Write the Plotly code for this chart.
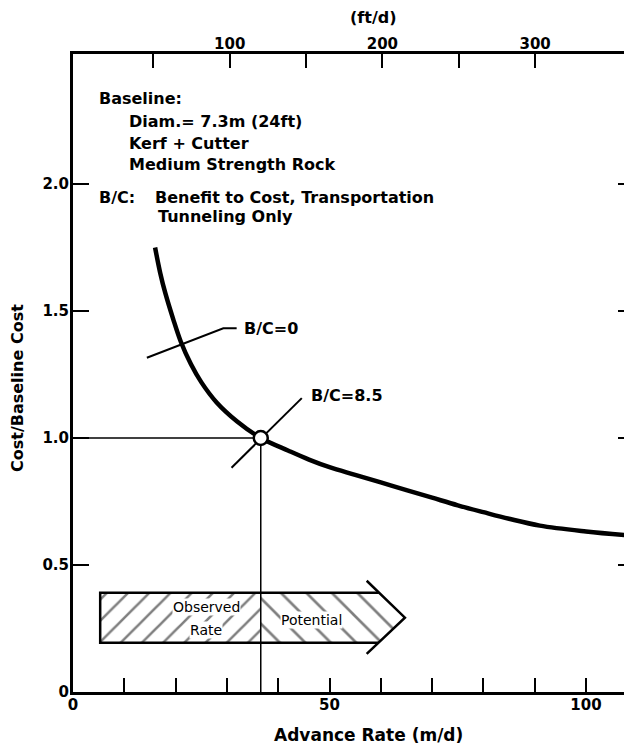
import plotly.graph_objects as go

# ---------------- data ----------------
advance_rate_m = [16.0, 17.0, 18.0, 19.5, 21.0, 23.0, 25.0, 28.0, 32.0, 36.6,
                  42.0, 46.0, 50.0, 55.0, 60.0, 65.0, 70.0, 75.0, 80.0, 85.0,
                  91.0, 100.0, 109.0]
cost_ratio = [1.75, 1.65, 1.57, 1.47, 1.38, 1.29, 1.22, 1.14, 1.065, 1.00,
              0.95, 0.915, 0.885, 0.855, 0.825, 0.795, 0.765, 0.735, 0.708, 0.682,
              0.655, 0.632, 0.615]

observed_rate = 36.6          # m/d, baseline point
baseline_cost = 1.0

bottom_tick_vals = [0, 10, 20, 30, 40, 50, 60, 70, 80, 90, 100]
bottom_tick_text = ["0", "", "", "", "", "50", "", "", "", "", "100"]
top_tick_vals = [50, 100, 150, 200, 250, 300]
top_tick_text = ["", "100", "", "200", "", "300"]
left_tick_vals = [0, 0.5, 1.0, 1.5, 2.0]
left_tick_text = ["0", "0.5", "1.0", "1.5", "2.0"]

# arrow band (Observed / Potential)
band_start = 5.3
band_low, band_high = 0.194, 0.391
head_base, head_tip = 59.6, 64.7
barb_x, barb_top, barb_bot = 57.25, 0.438, 0.15

# leader lines
bc0_line_x = [14.4, 29.3, 31.9]
bc0_line_y = [1.316, 1.432, 1.432]
bc85_line_x = [30.9, 44.6]
bc85_line_y = [0.883, 1.157]

# ---------------- geometry (page pixels) ----------------
OFF = 8                      # default page margin around the plot div
W, H = 632 - OFF, 748 - OFF
L, R, T, B = 73, 632, 54, 692
x_range = [0, (R - L) / 5.13]
y_range = [0, (B - T) / 254.0]
ft_range = [(L - 77) / 1.527, (R - 77) / 1.527]

def px(xp):
    return (xp - L) / (R - L)

def py(yp):
    return (B - yp) / (B - T)

FONT = "DejaVu Sans"
BLK = "black"

fig = go.Figure()

# hatched band: observed part
fig.add_trace(go.Scatter(
    x=[band_start, observed_rate, observed_rate, band_start, band_start],
    y=[band_low, band_low, band_high, band_high, band_low],
    mode="lines", fill="toself", line=dict(width=0, color=BLK),
    fillcolor="white",
    fillpattern=dict(shape="/", size=15, solidity=0.17, fgcolor=BLK, bgcolor="white"),
    hoverinfo="skip", showlegend=False))
# hatched band: potential part
fig.add_trace(go.Scatter(
    x=[observed_rate, observed_rate, head_base, head_tip, head_base, observed_rate],
    y=[band_low, band_high, band_high, (band_low + band_high) / 2, band_low, band_low],
    mode="lines", fill="toself", line=dict(width=0, color=BLK),
    fillcolor="white",
    fillpattern=dict(shape="\\", size=18, solidity=0.15, fgcolor=BLK, bgcolor="white"),
    hoverinfo="skip", showlegend=False))
# band outline
fig.add_trace(go.Scatter(
    x=[head_base, band_start, band_start, head_base],
    y=[band_high, band_high, band_low, band_low],
    mode="lines", line=dict(color=BLK, width=2.5), hoverinfo="skip", showlegend=False))
fig.add_trace(go.Scatter(
    x=[barb_x, head_tip, barb_x], y=[barb_top, (band_low + band_high) / 2, barb_bot],
    mode="lines", line=dict(color=BLK, width=2.5), hoverinfo="skip", showlegend=False))

# reference lines
fig.add_trace(go.Scatter(x=[0, observed_rate], y=[baseline_cost, baseline_cost],
                         mode="lines", line=dict(color=BLK, width=1.5),
                         hoverinfo="skip", showlegend=False))
fig.add_trace(go.Scatter(x=[observed_rate, observed_rate], y=[0, baseline_cost],
                         mode="lines", line=dict(color=BLK, width=1.5),
                         hoverinfo="skip", showlegend=False))

# leader lines
fig.add_trace(go.Scatter(x=bc0_line_x, y=bc0_line_y, mode="lines",
                         line=dict(color=BLK, width=2), hoverinfo="skip", showlegend=False))
fig.add_trace(go.Scatter(x=bc85_line_x, y=bc85_line_y, mode="lines",
                         line=dict(color=BLK, width=2), hoverinfo="skip", showlegend=False))

# main curve
fig.add_trace(go.Scatter(x=advance_rate_m, y=cost_ratio, mode="lines",
                         line=dict(color=BLK, width=4.5, shape="spline", smoothing=1.0),
                         showlegend=False))

# baseline point
fig.add_trace(go.Scatter(x=[observed_rate], y=[baseline_cost], mode="markers",
                         marker=dict(symbol="circle", size=14, color="white",
                                     line=dict(color=BLK, width=2.5)),
                         showlegend=False))

# dummy traces to activate secondary axes
fig.add_trace(go.Scatter(x=[None], y=[None], xaxis="x2", yaxis="y",
                         showlegend=False, hoverinfo="skip"))
fig.add_trace(go.Scatter(x=[None], y=[None], xaxis="x", yaxis="y2",
                         showlegend=False, hoverinfo="skip"))

tickfont = dict(family=FONT, size=15, color=BLK, weight="bold")

fig.update_layout(
    width=W, height=H, autosize=False,
    margin=dict(l=L - OFF, r=W - (R - OFF), t=T - OFF, b=H - (B - OFF), pad=0),
    paper_bgcolor="white", plot_bgcolor="white",
    showlegend=False,
    xaxis=dict(range=x_range, showline=True, linewidth=3, linecolor=BLK,
               ticks="inside", ticklen=14, tickwidth=2, tickcolor=BLK,
               tickvals=bottom_tick_vals, ticktext=bottom_tick_text,
               tickfont=tickfont, showgrid=False, zeroline=False,
               ticklabelstandoff=-3),
    yaxis=dict(range=y_range, showline=True, linewidth=3, linecolor=BLK,
               ticks="inside", ticklen=16, tickwidth=2, tickcolor=BLK,
               tickvals=left_tick_vals, ticktext=left_tick_text,
               tickfont=tickfont, showgrid=False, zeroline=False,
               ticklabelstandoff=-2),
    xaxis2=dict(range=ft_range, overlaying="x", side="top", showline=True,
                linewidth=2.5, linecolor=BLK, ticks="inside", ticklen=14,
                tickwidth=2, tickcolor=BLK, tickvals=top_tick_vals,
                ticktext=top_tick_text, tickfont=tickfont, showgrid=False,
                zeroline=False, ticklabelstandoff=-4),
    yaxis2=dict(range=y_range, overlaying="y", side="right", showline=False,
                ticks="inside", ticklen=14, tickwidth=2, tickcolor=BLK,
                tickvals=[0.5, 1.0, 1.5, 2.0], showticklabels=False,
                showgrid=False, zeroline=False),
)

def note(text, xp, yp, size=16, anchor="left", bold=True, bg=None, angle=0):
    fig.add_annotation(
        text=text, xref="paper", yref="paper", x=px(xp), y=py(yp),
        xanchor=anchor, yanchor="middle", showarrow=False, textangle=angle,
        font=dict(family=FONT, size=size, color=BLK, weight="bold" if bold else "normal"),
        bgcolor=bg, borderpad=0)

# text block
note("Baseline:", 98, 99)
note("Diam.= 7.3m (24ft)", 128, 121)
note("Kerf + Cutter", 128, 143)
note("Medium Strength Rock", 128, 165)
note("B/C:", 98, 197)
note("Benefit to Cost, Transportation", 154, 197)
note("Tunneling Only", 157, 217)

# curve labels
note("B/C=0", 243, 328)
note("B/C=8.5", 310, 395)

# band labels
note("Observed", 206, 607, size=14, anchor="center", bold=False, bg="white")
note("Rate", 206, 630, size=14, anchor="center", bold=False, bg="white")
note("Potential", 311, 620, size=14, anchor="center", bold=False, bg="white")

# axis titles
note("Advance Rate (m/d)", 368, 735, size=17, anchor="center")
note("(ft/d)", 373, 18, size=16, anchor="center")
note("Cost/Baseline Cost", 17, 388, size=16, anchor="center", angle=-90)

fig.write_html("out.html")
